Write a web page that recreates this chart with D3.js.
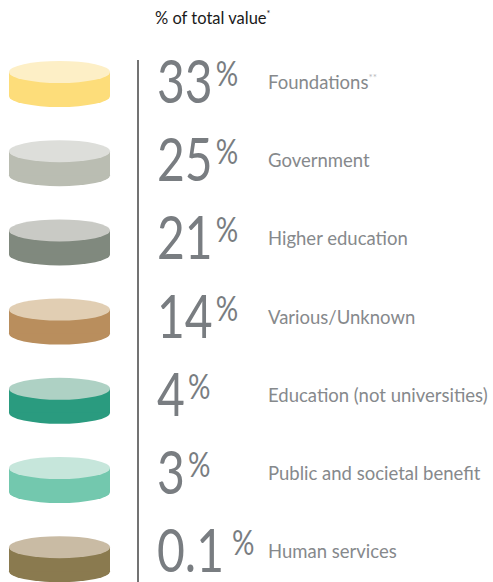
<!DOCTYPE html>
<html>
<head>
<meta charset="utf-8">
<script src="https://cdn.jsdelivr.net/npm/d3@7"></script>
<style>
  body { margin: 0; background: #fff; }
  svg { display: block; font-family: Lato, "Open Sans", sans-serif; }
</style>
</head>
<body>
<svg id="chart"></svg>
<script>
const categories = ["Foundations", "Government", "Higher education", "Various/Unknown",
  "Education (not universities)", "Public and societal benefit", "Human services"];
const values = ["33", "25", "21", "14", "4", "3", "0.1"];
const footnotes = ["**", "", "", "", "", "", ""];
const topColors = ["#fdefc6", "#dddeda", "#c9cac5", "#e1ceb3", "#aed1c4", "#c6e6db", "#c9bba4"];
const sideColors = ["#fddd7a", "#babdb2", "#80897e", "#b98e5d", "#2a9b7f", "#73c8ae", "#8a7a4f"];

const width = 493;
const height = 582;

const svg = d3.select("#chart")
  .attr("width", width)
  .attr("height", height);

const rows = categories.map((c, i) => ({ cat: c, value: values[i], note: footnotes[i], top: topColors[i], side: sideColors[i] }));

// discs: top edge at yDisc(cat)
const yDisc = d3.scaleBand()
  .domain(categories)
  .range([61, 61 + 79.2 * categories.length]);

// text rows are spaced a little tighter than the discs
const yText = d3.scaleBand()
  .domain(categories)
  .range([61, 61 + 78.2 * categories.length]);

const cx = 59.5, rx = 50.5, ry = 11, thick = 24;

// title
const title = svg.append("text")
  .attr("x", 155)
  .attr("y", 24)
  .attr("font-size", 16.5)
  .attr("fill", "#1a1a1a")
  .text("% of total value");
title.append("tspan")
  .attr("font-size", 9)
  .attr("dy", -7)
  .text("*");

// divider
svg.append("line")
  .attr("x1", 138).attr("x2", 138)
  .attr("y1", 60).attr("y2", height)
  .attr("stroke", "#444")
  .attr("stroke-width", 1.5);

const disc = svg.selectAll("g.disc")
  .data(rows)
  .join("g")
  .attr("class", "disc")
  .attr("transform", d => `translate(0,${yDisc(d.cat)})`);

// bottom ellipse + side rect + top face
disc.append("ellipse")
  .attr("cx", cx).attr("cy", ry + thick)
  .attr("rx", rx).attr("ry", ry)
  .attr("fill", d => d.side);
disc.append("rect")
  .attr("x", cx - rx).attr("y", ry)
  .attr("width", rx * 2).attr("height", thick)
  .attr("fill", d => d.side);
disc.append("ellipse")
  .attr("cx", cx).attr("cy", ry)
  .attr("rx", rx).attr("ry", ry)
  .attr("fill", d => d.top);

const row = svg.selectAll("g.row")
  .data(rows)
  .join("g")
  .attr("class", "row")
  .attr("transform", d => `translate(0,${yText(d.cat)})`);

// big number, squeezed to mimic the narrow face
const num = row.append("text")
  .attr("transform", "translate(157,42) scale(0.8,1)")
  .attr("fill", "#797d81");
num.append("tspan")
  .attr("font-size", 60)
  .text(d => d.value);
num.append("tspan")
  .attr("font-size", 35)
  .attr("dx", d => d.value === "0.1" ? 10 : 4)
  .attr("dy", -17)
  .text("%");

// label
const lab = row.append("text")
  .attr("x", 268)
  .attr("y", 28)
  .attr("font-size", 18.5)
  .attr("fill", "#86898c")
  .text(d => d.cat);
lab.append("tspan")
  .attr("font-size", 10)
  .attr("dy", -8)
  .attr("fill", "#b8babc")
  .text(d => d.note);
</script>
</body>
</html>
